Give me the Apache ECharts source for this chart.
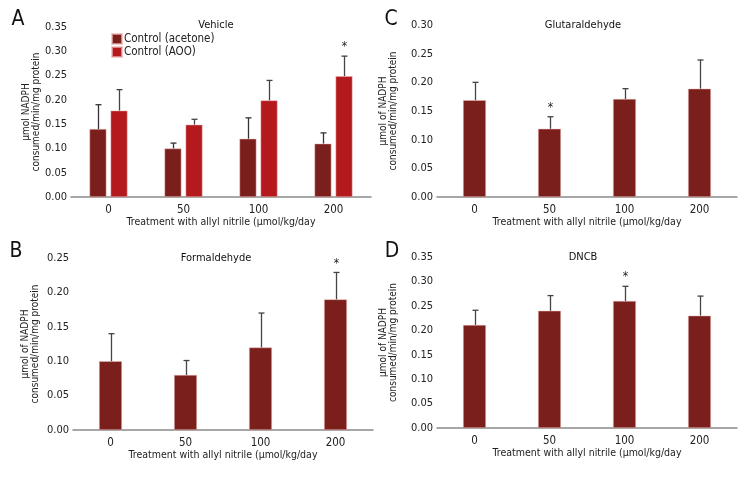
<!DOCTYPE html>
<html>
<head>
<meta charset="utf-8">
<script src="https://cdn.jsdelivr.net/npm/echarts@6/dist/echarts.min.js"></script>
<style>html,body{margin:0;padding:0;background:#fff}#c{width:756px;height:480px}</style>
</head>
<body>
<div id="c"></div>
<script>
var categories = ['0', '50', '100', '200'];
var yTicksA = [0, 0.35], yTicksB = [0, 0.25], yTicksC = [0, 0.30], yTicksD = [0, 0.35];

var vehicleAcetone = [0.14, 0.10, 0.12, 0.11];
var vehicleAcetoneErr = [0.05, 0.011, 0.043, 0.022];
var vehicleAOO = [0.178, 0.149, 0.199, 0.249];
var vehicleAOOErr = [0.043, 0.011, 0.041, 0.041];
var vehicleAOOStar = [0, 0, 0, 1];

var formaldehyde = [0.10, 0.08, 0.12, 0.19];
var formaldehydeErr = [0.04, 0.021, 0.05, 0.039];
var formaldehydeStar = [0, 0, 0, 1];

var glutaraldehyde = [0.169, 0.119, 0.171, 0.189];
var glutaraldehydeErr = [0.031, 0.021, 0.018, 0.05];
var glutaraldehydeStar = [0, 1, 0, 0];

var dncb = [0.211, 0.24, 0.26, 0.23];
var dncbErr = [0.03, 0.031, 0.03, 0.04];
var dncbStar = [0, 0, 1, 0];

var FONT = "'Liberation Sans Narrow','DejaVu Sans Condensed',sans-serif";
var DARK = '#7a1f1b', RED = '#b3191d';
var xName = 'Treatment with allyl nitrile (\u03bcmol/kg/day';

var chart = echarts.init(document.getElementById('c'));

var grids = [
  {left: 71, width: 300, top: 27, height: 170},
  {left: 73, width: 300, top: 258, height: 172},
  {left: 437, width: 300, top: 25, height: 172},
  {left: 437, width: 300, top: 257, height: 171}
];
var yMax = [yTicksA[1], yTicksB[1], yTicksC[1], yTicksD[1]];
var yNames = ['\u03bcmol NADPH\nconsumed/min/mg protein',
  '\u03bcmol of NADPH\nconsumed/min/mg protein',
  '\u03bcmol of NADPH\nconsumed/min/mg protein',
  '\u03bcmol of NADPH\nconsumed/min/mg protein'];
var yGaps = [22, 33, 39, 39];

var xAxes = grids.map(function (g, i) {
  return {
    type: 'category', gridIndex: i, data: categories,
    axisLine: {lineStyle: {color: '#8a8a8a', width: 1.5}},
    axisTick: {show: false},
    axisLabel: {color: '#222', fontFamily: FONT, fontSize: 11.5, margin: 7},
    name: xName, nameLocation: 'middle', nameGap: 20,
    nameTextStyle: {color: '#222', fontFamily: FONT, fontSize: 10.5}
  };
});
var yAxes = grids.map(function (g, i) {
  return {
    type: 'value', gridIndex: i, min: 0, max: yMax[i], interval: 0.05,
    splitLine: {show: false}, axisLine: {show: false}, axisTick: {show: false},
    axisLabel: {color: '#222', fontFamily: FONT, fontSize: 11, margin: 4,
      formatter: function (v) { return v.toFixed(2); }},
    name: yNames[i], nameLocation: 'middle', nameGap: yGaps[i],
    nameTextStyle: {color: '#222', fontFamily: FONT, fontSize: 10, lineHeight: 10}
  };
});

function barSeries(name, data, idx, color, width, gap) {
  return {
    type: 'bar', name: name, xAxisIndex: idx, yAxisIndex: idx, data: data,
    barWidth: width, barGap: gap,
    itemStyle: {color: color, borderColor: 'rgba(235,180,180,0.7)', borderWidth: 0.7},
    z: 2
  };
}
function errSeries(vals, errs, stars, idx, offset, lineColor) {
  var d = vals.map(function (v, i) { return [i, v, errs[i], stars ? stars[i] : 0]; });
  return {
    type: 'custom', xAxisIndex: idx, yAxisIndex: idx, data: d, z: 5, silent: true,
    renderItem: function (params, api) {
      var i = api.value(0), v = api.value(1), e = api.value(2), s = api.value(3);
      var p0 = api.coord([i, v]), p1 = api.coord([i, v + e]);
      var x = Math.round(p0[0] + offset) + 0.5;
      var st = {stroke: lineColor, lineWidth: 1.3};
      var ch = [
        {type: 'line', shape: {x1: x, y1: p0[1], x2: x, y2: p1[1]}, style: st},
        {type: 'line', shape: {x1: x - 3, y1: p1[1], x2: x + 3, y2: p1[1]}, style: st}
      ];
      if (s) {
        ch.push({type: 'text', style: {text: '*', x: x, y: p1[1] - 3, fill: '#222',
          font: '12px ' + FONT, textAlign: 'center', textVerticalAlign: 'bottom'}});
      }
      return {type: 'group', children: ch};
    }
  };
}

var wA = 17, gapA = '24%';
var offA = (wA + wA * 0.24) / 2;

function txt(t, x, y, size) {
  return {type: 'text', x: x, y: y, style: {text: t, fill: '#111',
    font: size + 'px ' + FONT, textAlign: 'center', textVerticalAlign: 'middle'}};
}

chart.setOption({
  animation: false,
  textStyle: {fontFamily: FONT},
  grid: grids,
  xAxis: xAxes,
  yAxis: yAxes,
  legend: {
    left: 111, top: 33, padding: 0, orient: 'vertical', itemWidth: 10, itemHeight: 10, itemGap: 1,
    icon: 'rect', data: ['Control (acetone)', 'Control (AOO)'],
    textStyle: {color: '#222', fontFamily: FONT, fontSize: 11.5, lineHeight: 12, padding: [0, 0, 0, -3]}
  },
  graphic: [
    txt('A', 18, 20, 21), txt('B', 16, 252, 21), txt('C', 391, 20, 21), txt('D', 392, 252, 21),
    txt('Vehicle', 216, 25, 11), txt('Formaldehyde', 216, 258, 11),
    txt('Glutaraldehyde', 583, 25, 11), txt('DNCB', 583, 257, 11)
  ],
  series: [
    barSeries('Control (acetone)', vehicleAcetone, 0, DARK, wA, gapA),
    barSeries('Control (AOO)', vehicleAOO, 0, RED, wA, gapA),
    errSeries(vehicleAcetone, vehicleAcetoneErr, null, 0, -offA, '#333'),
    errSeries(vehicleAOO, vehicleAOOErr, vehicleAOOStar, 0, offA, '#444'),
    barSeries('Formaldehyde', formaldehyde, 1, DARK, 23, '0%'),
    errSeries(formaldehyde, formaldehydeErr, formaldehydeStar, 1, 0, '#444'),
    barSeries('Glutaraldehyde', glutaraldehyde, 2, DARK, 23, '0%'),
    errSeries(glutaraldehyde, glutaraldehydeErr, glutaraldehydeStar, 2, 0, '#444'),
    barSeries('DNCB', dncb, 3, DARK, 23, '0%'),
    errSeries(dncb, dncbErr, dncbStar, 3, 0, '#444')
  ]
});
</script>
</body>
</html>
